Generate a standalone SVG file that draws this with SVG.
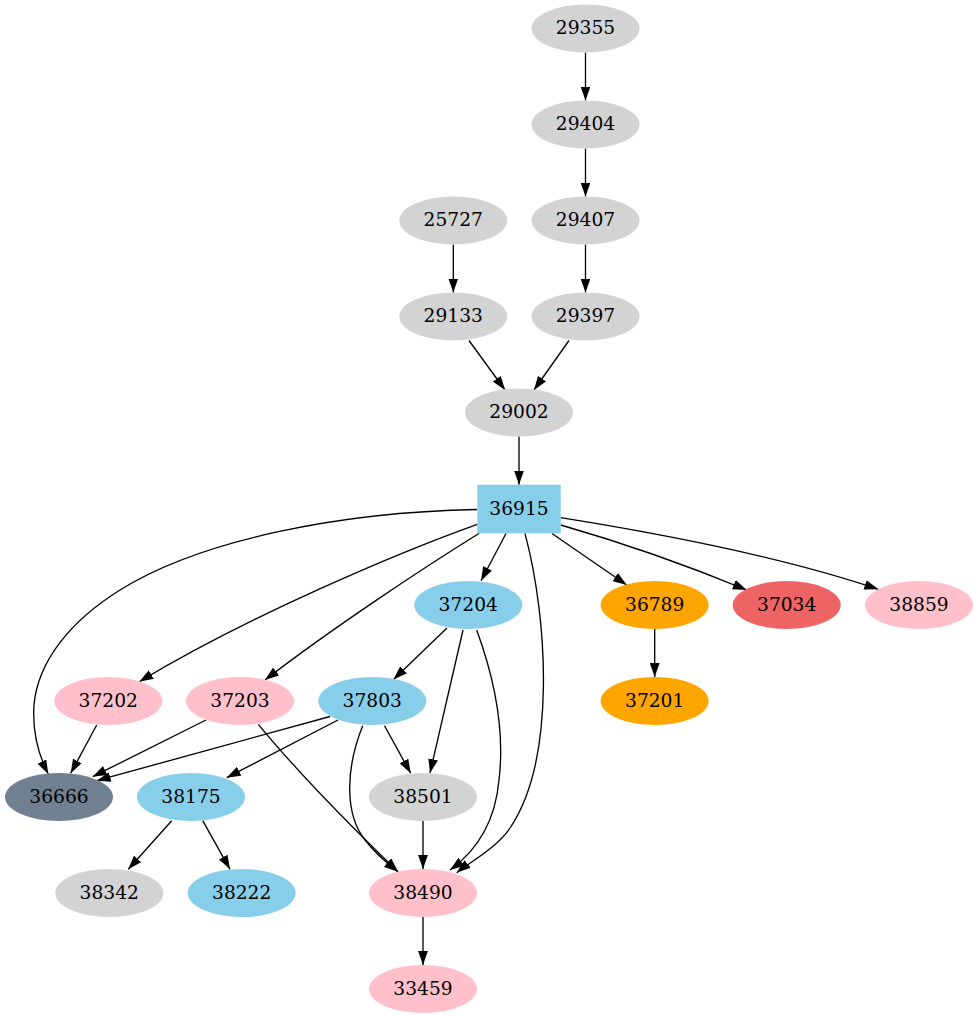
<svg xmlns="http://www.w3.org/2000/svg" width="978" height="1019" viewBox="0 0 978 1019">
<style>
.n text{font-family:"DejaVu Serif","Liberation Serif",serif;font-size:18.67px;text-anchor:middle;fill:#000}
.e path{fill:none;stroke:#000;stroke-width:1.33;marker-end:url(#a)}
.gray{fill:#d3d3d3}.sky{fill:#87ceeb}.pink{fill:#ffc0cb}.orange{fill:#ffa500}.slate{fill:#708090}.red{fill:#ee6363}
</style>
<defs>
<marker id="a" markerWidth="14" markerHeight="10" refX="13.3" refY="4.67" orient="auto" markerUnits="userSpaceOnUse" viewBox="0 0 13.33 9.33">
<path d="M0,0 L13.33,4.67 L0,9.33z" fill="#000"/>
</marker>
</defs>
<rect width="978" height="1019" fill="#fff"/>
<g class="e" id="edges">
<path d="M585.5,52.5 L585.5,100.5"/>
<path d="M585.5,148.5 L585.5,196.5"/>
<path d="M585.5,244.5 L585.5,292.5"/>
<path d="M453.3,244.5 L453.3,292.5"/>
<path d="M469,340.5 L505,390"/>
<path d="M569,340.5 L534,390"/>
<path d="M519,436.5 L519,484.7"/>
<path d="M477,509.5 C340,512 200,540 120,590 C72,620 38,660 34,705 C32,735 40,758 48.3,774"/>
<path d="M477.3,524.3 C400,552 250,615 139.3,681.7"/>
<path d="M479.3,533.3 C420,570 330,630 265,680"/>
<path d="M506,533.5 L481,580.7"/>
<path d="M525,533.3 C548,620 556,760 510,828 C496.5,848 470,862 456.7,872.7"/>
<path d="M552,533.5 L626.7,585"/>
<path d="M560.7,525 Q655,552 746.7,590"/>
<path d="M560.7,517.7 C650,532 780,556 878.3,589.3"/>
<path d="M654.7,629 L654.7,677"/>
<path d="M447,628 L393.5,679.5"/>
<path d="M463,630 L430,773"/>
<path d="M476.7,630 C495,680 505,730 499,780 C495,825 475,852 450,870"/>
<path d="M330,716.5 L96.7,780.7"/>
<path d="M338,720 L226.7,777.7"/>
<path d="M384.5,725.7 L410.7,773.3"/>
<path d="M362.7,725.7 C345,770 345,815 365,840 C375,853 388,864 398,871.7"/>
<path d="M96.7,725 L70.7,773.3"/>
<path d="M206,720 L92.7,776.7"/>
<path d="M258.3,724.3 C300,775 360,835 398,871.7"/>
<path d="M171.7,820.7 L128.3,869.3"/>
<path d="M202.7,820.7 L230,869.3"/>
<path d="M423,821 L423,869"/>
<path d="M423,917 L423,965"/>
</g>
<g class="n" id="n29355"><ellipse class="gray" cx="585.5" cy="28.5" rx="54" ry="24"/><text x="585.5" y="34">29355</text></g>
<g class="n" id="n29404"><ellipse class="gray" cx="585.5" cy="124.5" rx="54" ry="24"/><text x="585.5" y="130">29404</text></g>
<g class="n" id="n29407"><ellipse class="gray" cx="585.5" cy="220.5" rx="54" ry="24"/><text x="585.5" y="226">29407</text></g>
<g class="n" id="n25727"><ellipse class="gray" cx="453.3" cy="220.5" rx="54" ry="24"/><text x="453.3" y="226">25727</text></g>
<g class="n" id="n29133"><ellipse class="gray" cx="453.3" cy="316.5" rx="54" ry="24"/><text x="453.3" y="322">29133</text></g>
<g class="n" id="n29397"><ellipse class="gray" cx="585.5" cy="316.5" rx="54" ry="24"/><text x="585.5" y="322">29397</text></g>
<g class="n" id="n29002"><ellipse class="gray" cx="519" cy="412.5" rx="54" ry="24"/><text x="519" y="418">29002</text></g>
<g class="n" id="n36915"><rect class="sky" x="477.3" y="484.7" width="83.4" height="48.6"/><text x="519" y="514.5">36915</text></g>
<g class="n" id="n37204"><ellipse class="sky" cx="468.3" cy="605" rx="54" ry="24"/><text x="468.3" y="610.5">37204</text></g>
<g class="n" id="n36789"><ellipse class="orange" cx="654.7" cy="605" rx="54" ry="24"/><text x="654.7" y="610.5">36789</text></g>
<g class="n" id="n37034"><ellipse class="red" cx="786.7" cy="605" rx="54" ry="24"/><text x="786.7" y="610.5">37034</text></g>
<g class="n" id="n38859"><ellipse class="pink" cx="919" cy="605" rx="54" ry="24"/><text x="919" y="610.5">38859</text></g>
<g class="n" id="n37202"><ellipse class="pink" cx="108.3" cy="701" rx="54" ry="24"/><text x="108.3" y="706.5">37202</text></g>
<g class="n" id="n37203"><ellipse class="pink" cx="240" cy="701" rx="54" ry="24"/><text x="240" y="706.5">37203</text></g>
<g class="n" id="n37803"><ellipse class="sky" cx="372.3" cy="701" rx="54" ry="24"/><text x="372.3" y="706.5">37803</text></g>
<g class="n" id="n37201"><ellipse class="orange" cx="654.7" cy="701" rx="54" ry="24"/><text x="654.7" y="706.5">37201</text></g>
<g class="n" id="n36666"><ellipse class="slate" cx="59" cy="797" rx="54" ry="24"/><text x="59" y="802.5">36666</text></g>
<g class="n" id="n38175"><ellipse class="sky" cx="191" cy="797" rx="54" ry="24"/><text x="191" y="802.5">38175</text></g>
<g class="n" id="n38501"><ellipse class="gray" cx="423" cy="797" rx="54" ry="24"/><text x="423" y="802.5">38501</text></g>
<g class="n" id="n38342"><ellipse class="gray" cx="109.3" cy="893" rx="54" ry="24"/><text x="109.3" y="898.5">38342</text></g>
<g class="n" id="n38222"><ellipse class="sky" cx="241.7" cy="893" rx="54" ry="24"/><text x="241.7" y="898.5">38222</text></g>
<g class="n" id="n38490"><ellipse class="pink" cx="423" cy="893" rx="54" ry="24"/><text x="423" y="898.5">38490</text></g>
<g class="n" id="n33459"><ellipse class="pink" cx="423" cy="989" rx="54" ry="24"/><text x="423" y="994.5">33459</text></g>
</svg>
